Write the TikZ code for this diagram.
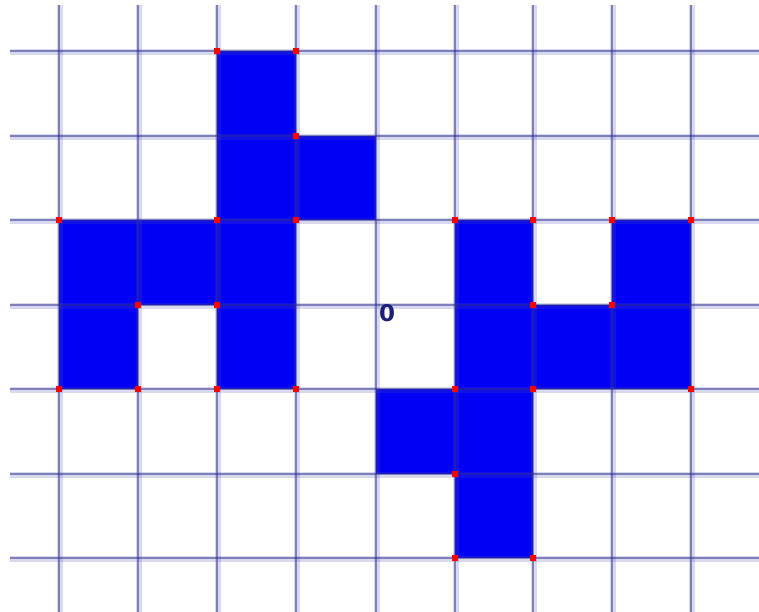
\documentclass[tikz,border=0pt]{standalone}
\usepackage{fontspec}
\setsansfont{DejaVu Sans}
\begin{document}
\begin{tikzpicture}[x={(1pt,0)},y={(0,-1pt)},
  cell/.style={fill={rgb,255:red,0;green,0;blue,245}},
  gridhalo/.style={draw={rgb,255:red,80;green,80;blue,180},line width=5.5pt,opacity=0.22},
  gridcore/.style={draw={rgb,255:red,40;green,40;blue,140},line width=2.2pt,opacity=0.5},
  dot/.style={fill=red,draw=none}]
\useasboundingbox (0,0) rectangle (759,612);
\fill[white] (0,0) rectangle (759,612);
\def\xs{{59,138,217,296,376,455,533,612,691}}
\def\ys{{51,136,220,305,389,474,558}}
% cells: column index (0..8 -> left edge), row index (0..6 -> top edge)
\foreach \c/\r in {2/0, 2/1, 3/1, 0/2, 1/2, 2/2, 0/3, 2/3,
                   5/2, 7/2, 5/3, 6/3, 7/3, 4/4, 5/4, 5/5}{
  \pgfmathsetmacro{\xa}{\xs[\c]}
  \pgfmathsetmacro{\xb}{\xs[\c+1]}
  \pgfmathsetmacro{\ya}{\ys[\r]}
  \pgfmathsetmacro{\yb}{\ys[\r+1]}
  \fill[cell] (\xa,\ya) rectangle (\xb,\yb);
}
% grid
\foreach \x in {59,138,217,296,376,455,533,612,691}{
  \draw[gridhalo] (\x+1,5) -- (\x+1,612);
  \draw[gridcore] (\x,5) -- (\x,612);
}
\foreach \y in {51,136,220,305,389,474,558}{
  \draw[gridhalo] (10,\y+1) -- (759,\y+1);
  \draw[gridcore] (10,\y) -- (759,\y);
}
% red vertices
\foreach \c/\r in {2/0, 3/0, 3/1, 0/2, 2/2, 3/2, 1/3, 2/3, 0/4, 1/4, 2/4, 3/4,
                   5/2, 6/2, 7/2, 8/2, 6/3, 7/3, 5/4, 6/4, 8/4, 5/5, 5/6, 6/6}{
  \pgfmathsetmacro{\xa}{\xs[\c]}
  \pgfmathsetmacro{\ya}{\ys[\r]}
  \fill[dot] (\xa-2.8,\ya-2.8) rectangle (\xa+2.8,\ya+2.8);
}
\node[anchor=center,inner sep=0pt,text={rgb,255:red,30;green,30;blue,120},
  font=\sffamily\bfseries\fontsize{23}{23}\selectfont] (zero) at (387,313) {0};
\end{tikzpicture}
\end{document}
